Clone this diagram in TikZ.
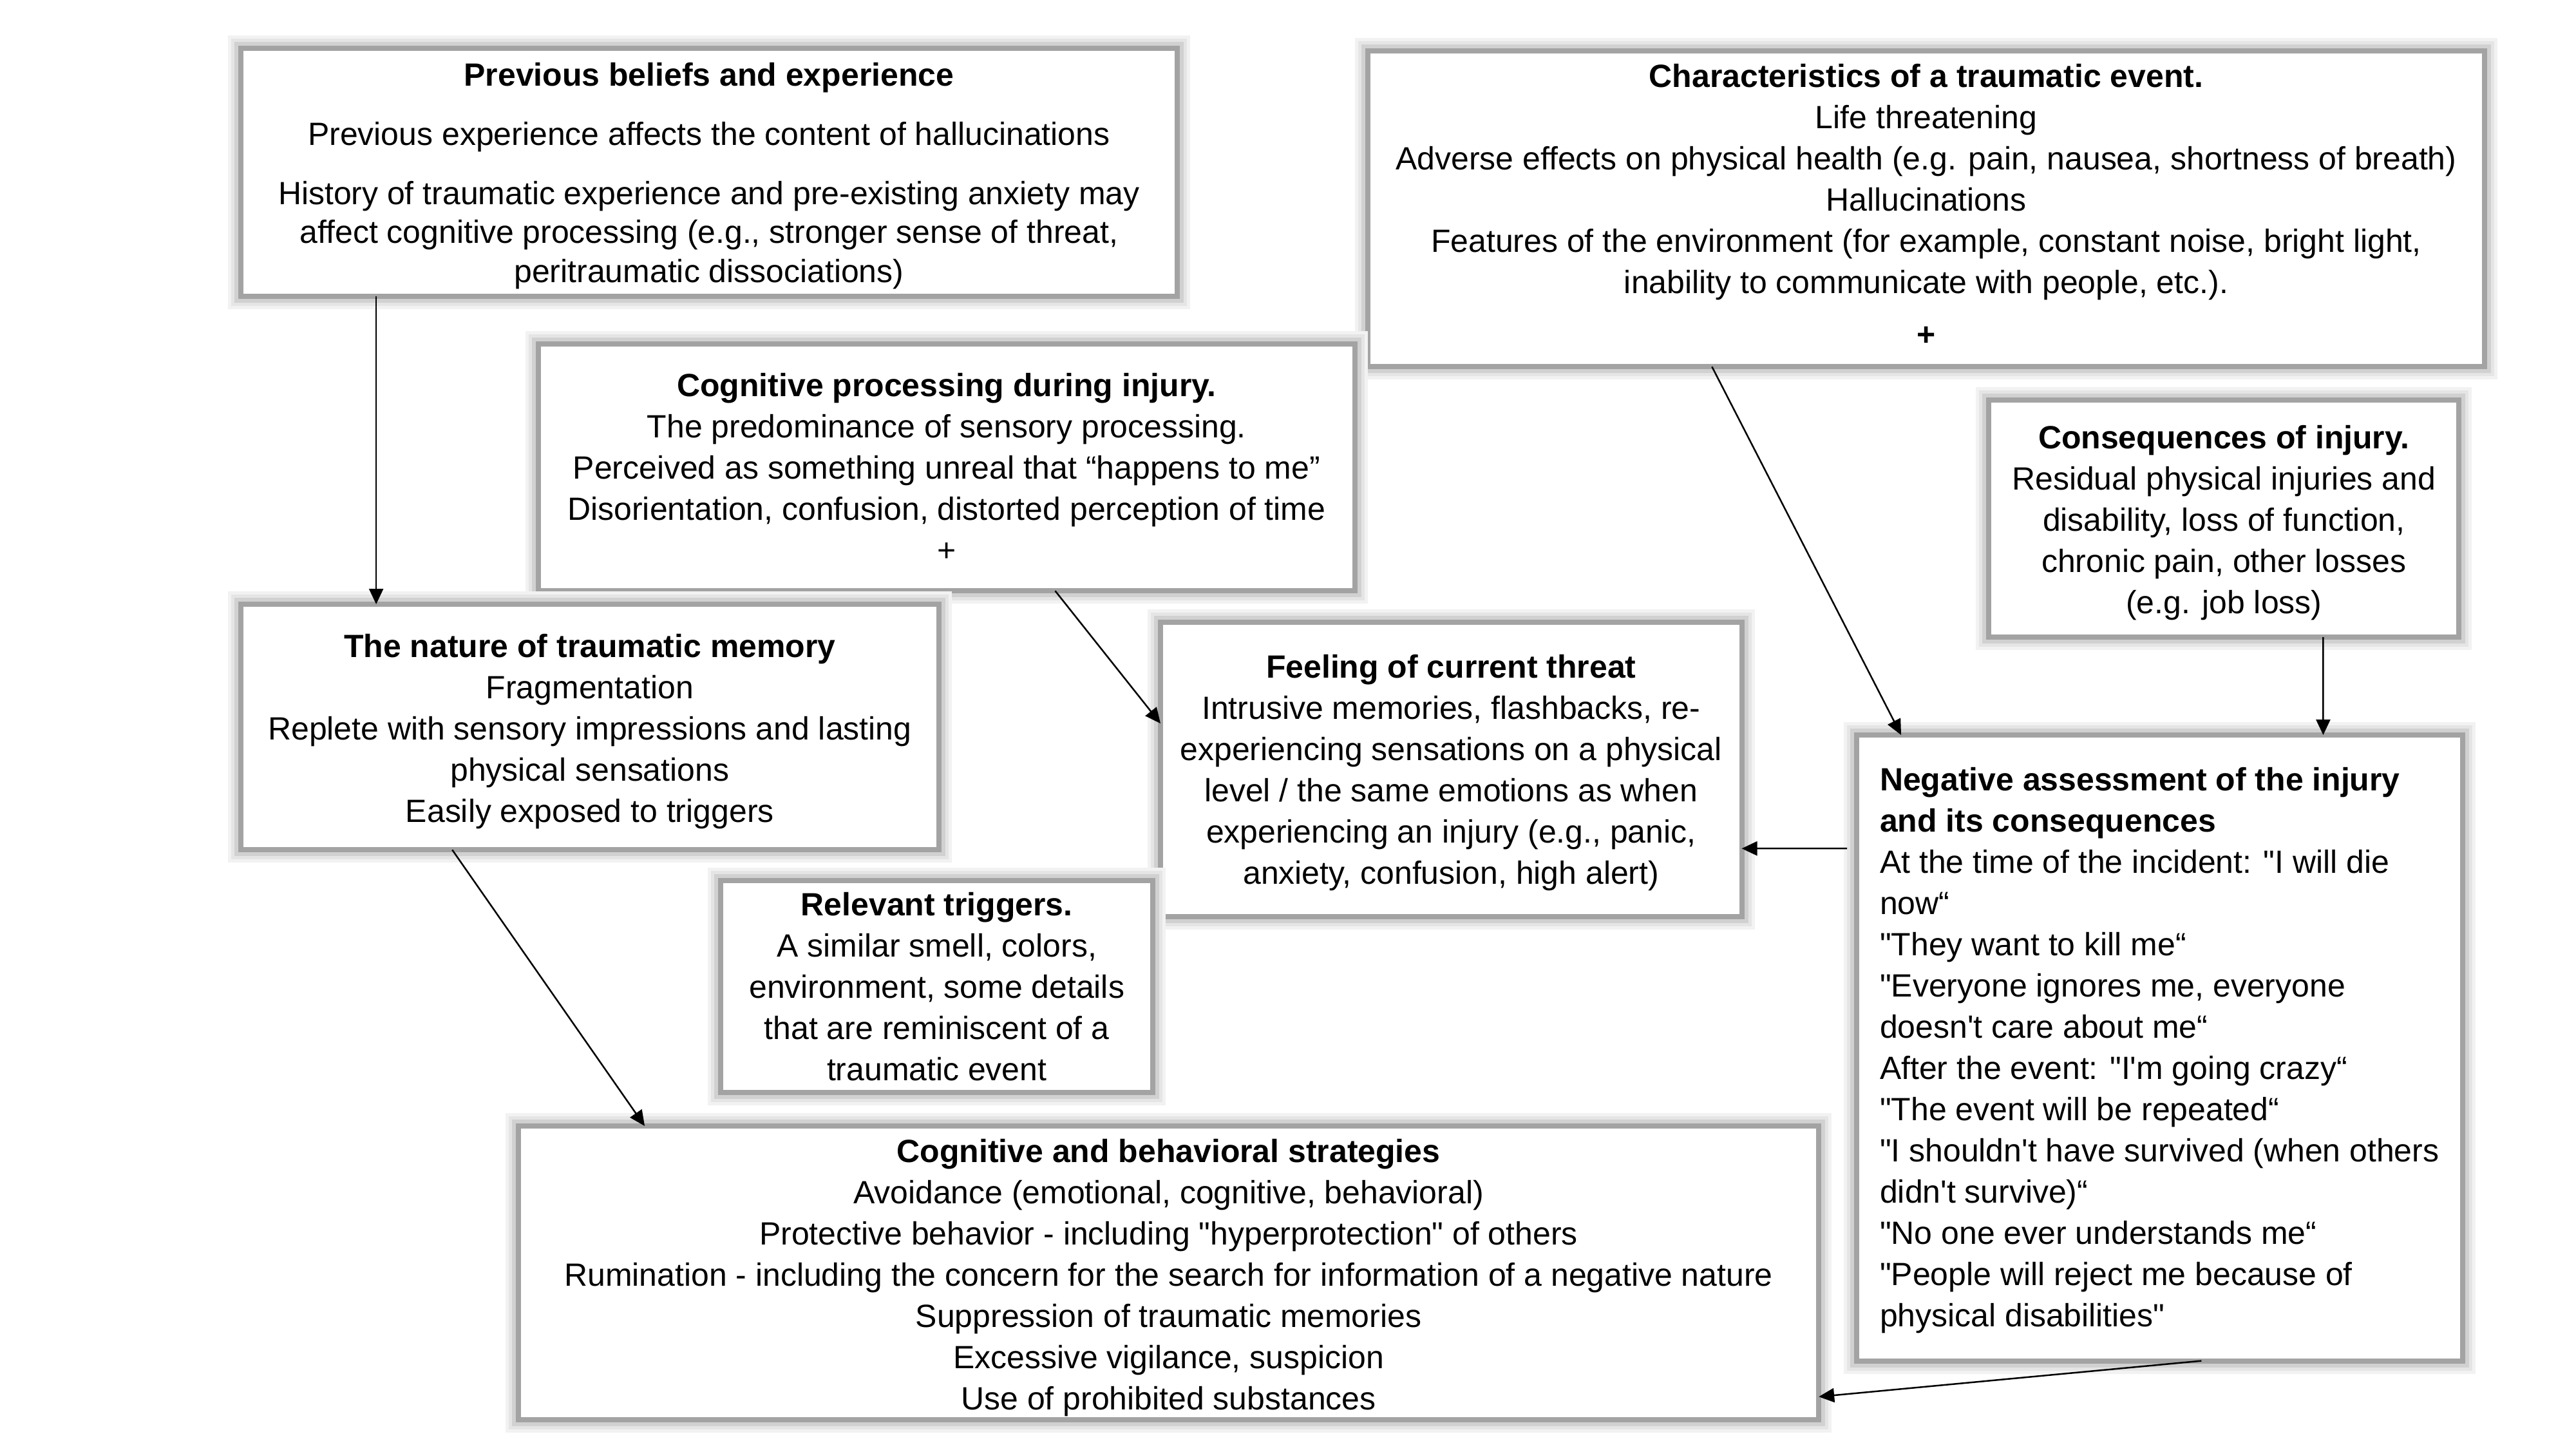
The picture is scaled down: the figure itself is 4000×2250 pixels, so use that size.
\documentclass[tikz,border=0pt]{standalone}
\usepackage{fontspec}
\newfontfamily\arialf{Liberation Sans}
\usetikzlibrary{arrows.meta,calc}
\definecolor{boxgray}{HTML}{A3A3A3}
\newcommand\topfix[1]{\rule{0pt}{#1}}
\newcommand\botfix[1]{\rule[-#1]{0pt}{0pt}}
\begin{document}
\begin{tikzpicture}[x=0.01cm,y=-0.01cm,
  box/.style={rectangle, anchor=north west, draw=boxgray, line width=0.08cm,
    fill=white, outer sep=0pt, inner sep=0pt, align=center,
    font=\arialf\fontsize{14.2}{18.2}\selectfont,
    preaction={draw=black!5, line width=0.40cm},
    preaction={draw=black!10, line width=0.30cm},
    preaction={draw=black!18, line width=0.20cm}},
  arr/.style={-{Triangle[length=0.24cm,width=0.22cm]}, line width=0.025cm, black}]
\useasboundingbox (0,0) rectangle (4000,2250);

\node[box, font=\arialf\fontsize{14.2}{17.2}\selectfont, minimum width=14.53cm, minimum height=3.85cm] (prev) at (374,75)
 {\topfix{13.3pt}\textbf{Previous beliefs and experience}\\[9pt]
  Previous experience affects the content of hallucinations\\[9pt]
  History of traumatic experience and pre-existing anxiety may\\
  affect cognitive processing (e.g., stronger sense of threat,\\
  peritraumatic dissociations)};

\node[box, minimum width=17.33cm, minimum height=4.90cm] (char) at (2124,79)
 {\textbf{Characteristics of a traumatic event.}\\
  Life threatening\\
  Adverse effects on physical health (e.g. pain, nausea, shortness of breath)\\
  Hallucinations\\
  Features of the environment (for example, constant noise, bright light,\\
  inability to communicate with people, etc.).\\[5pt]
  \textbf{+}\botfix{3.6pt}};

\node[box, minimum width=12.67cm, minimum height=3.83cm] (cogproc) at (836,534)
 {\textbf{Cognitive processing during injury.}\\
  The predominance of sensory processing.\\
  Perceived as something unreal that “happens to me”\\
  Disorientation, confusion, distorted perception of time\\
  +};

\node[box, minimum width=7.30cm, minimum height=3.68cm] (conseq) at (3088,621)
 {\topfix{14pt}\textbf{Consequences of injury.}\\
  Residual physical injuries and\\
  disability, loss of function,\\
  chronic pain, other losses\\
  (e.g. job loss)};

\node[box, minimum width=10.83cm, minimum height=3.81cm] (nature) at (374,938)
 {\topfix{14pt}\textbf{The nature of traumatic memory}\\
  Fragmentation\\
  Replete with sensory impressions and lasting\\
  physical sensations\\
  Easily exposed to triggers};

\node[box, minimum width=9.02cm, minimum height=4.57cm] (threat) at (1802,966)
 {\topfix{13.3pt}\textbf{Feeling of current threat}\\
  Intrusive memories, flashbacks, re-\\
  experiencing sensations on a physical\\
  level / the same emotions as when\\
  experiencing an injury (e.g., panic,\\
  anxiety, confusion, high alert)};

\node[box, align=left, minimum width=9.40cm, minimum height=9.71cm] (neg) at (2883,1141)
 {\topfix{12.6pt}\textbf{Negative assessment of the injury}\\
  \textbf{and its consequences}\\
  At the time of the incident: "I will die\\
  now“\\
  "They want to kill me“\\
  "Everyone ignores me, everyone\\
  doesn't care about me“\\
  After the event: "I'm going crazy“\\
  "The event will be repeated“\\
  "I shouldn't have survived (when others\\
  didn't survive)“\\
  "No one ever understands me“\\
  "People will reject me because of\\
  physical disabilities"};

\node[box, minimum width=6.71cm, minimum height=3.29cm] (trig) at (1119,1367)
 {\textbf{Relevant triggers.}\\
  A similar smell, colors,\\
  environment, some details\\
  that are reminiscent of a\\
  traumatic event};

\node[box, minimum width=20.18cm, minimum height=4.56cm] (strat) at (805,1748)
 {\topfix{14.7pt}\textbf{Cognitive and behavioral strategies}\\
  Avoidance (emotional, cognitive, behavioral)\\
  Protective behavior - including "hyperprotection" of others\\
  Rumination - including the concern for the search for information of a negative nature\\
  Suppression of traumatic memories\\
  Excessive vigilance, suspicion\\
  Use of prohibited substances};

\draw[arr] ([xshift=2.10cm]prev.south west) -- ([xshift=2.10cm]nature.north west);
\draw[arr] ([xshift=8.02cm]cogproc.south west) -- ([yshift=-1.57cm]threat.north west);
\draw[arr] ([xshift=5.34cm]char.south west) -- ([xshift=0.69cm]neg.north west);
\draw[arr] ([xshift=5.19cm]conseq.south west) -- ([xshift=7.24cm]neg.north west);
\draw[arr] ([xshift=-0.15cm,yshift=-1.76cm]neg.north west) -- ([yshift=-3.51cm]threat.north east);
\draw[arr] ([xshift=3.28cm]nature.south west) -- ([xshift=1.96cm]strat.north west);
\draw[arr] ([xshift=5.35cm]neg.south west) -- ([yshift=-4.20cm]strat.north east);
\end{tikzpicture}
\end{document}
